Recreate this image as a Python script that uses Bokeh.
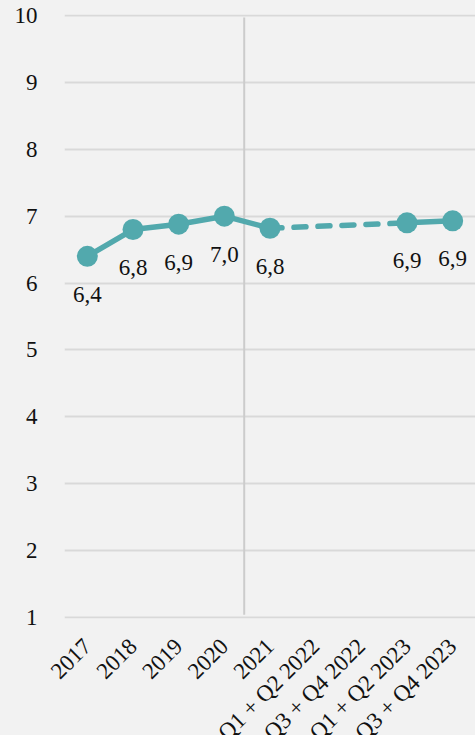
from bokeh.plotting import figure
from bokeh.models import ColumnDataSource, Range1d, FactorRange, FixedTicker
from bokeh.core.properties import value
from bokeh.embed import file_html
from bokeh.resources import INLINE
import math

categories = ["2017", "2018", "2019", "2020", "2021",
              "Q1 + Q2 2022", "Q3 + Q4 2022", "Q1 + Q2 2023", "Q3 + Q4 2023"]
values = [6.4, 6.8, 6.88, 7.0, 6.82, None, None, 6.9, 6.93]
labels = ["6,4", "6,8", "6,9", "7,0", "6,8", "", "", "6,9", "6,9"]
y_ticks = [1, 2, 3, 4, 5, 6, 7, 8, 9, 10]

TEAL = "#52a9ad"
FONT = "Liberation Serif"
BG = "#f2f2f2"
FS = "23px"

p = figure(frame_width=411, frame_height=604,
           x_range=FactorRange(*categories, range_padding=0),
           y_range=Range1d(0.985, 10.015), output_backend="svg", toolbar_location=None,
           min_border_left=64, min_border_right=0, min_border_top=14, min_border_bottom=0)
p.background_fill_color = BG
p.border_fill_color = BG
p.outline_line_color = None

p.xgrid.grid_line_color = None
p.ygrid.grid_line_color = "#d9d9d9"
p.ygrid.grid_line_width = 2
p.yaxis.ticker = FixedTicker(ticks=y_ticks)

for ax in (p.xaxis[0], p.yaxis[0]):
    ax.axis_line_color = None
    ax.major_tick_line_color = None
    ax.minor_tick_line_color = None
    ax.major_label_text_font = FONT
    ax.major_label_text_font_size = FS
    ax.major_label_text_color = "#111111"
p.yaxis.major_label_standoff = 21
p.xaxis.major_label_standoff = 18
p.xaxis.major_label_orientation = math.pi / 4

# divider between yearly and half-yearly data
div_x = categories.index("2021") - 0.065
p.segment(x0=[div_x], x1=[div_x], y0=[1.04], y1=[9.97], line_color="#cccccc", line_width=2)

# split into solid runs and dashed gaps
pts = [(c, v, l) for c, v, l in zip(categories, values, labels) if v is not None]
idx = [i for i, v in enumerate(values) if v is not None]
runs = []
cur = [0]
for k in range(1, len(idx)):
    if idx[k] == idx[k - 1] + 1:
        cur.append(k)
    else:
        runs.append(cur)
        p.line(x=[pts[k - 1][0], pts[k][0]], y=[pts[k - 1][1], pts[k][1]],
               line_color=TEAL, line_width=5.5, line_dash="12 12", line_cap="round")
        cur = [k]
runs.append(cur)
for r in runs:
    p.line(x=[pts[k][0] for k in r], y=[pts[k][1] for k in r],
           line_color=TEAL, line_width=5.5, line_join="round")

src = ColumnDataSource(dict(x=[a[0] for a in pts], y=[a[1] for a in pts], t=[a[2] for a in pts]))
p.scatter(x="x", y="y", source=src, size=21, fill_color=TEAL, line_color=None)
p.text(x="x", y="y", text="t", source=src, text_align="center", text_baseline="middle",
       y_offset=38, text_font=value(FONT), text_font_size=FS, text_color="#111111")

html = file_html(p, INLINE)
html = html.replace("<head>", "<head><style>html,body{background:#f2f2f2;overflow:hidden;}</style>", 1)
open("out.html", "w").write(html)
